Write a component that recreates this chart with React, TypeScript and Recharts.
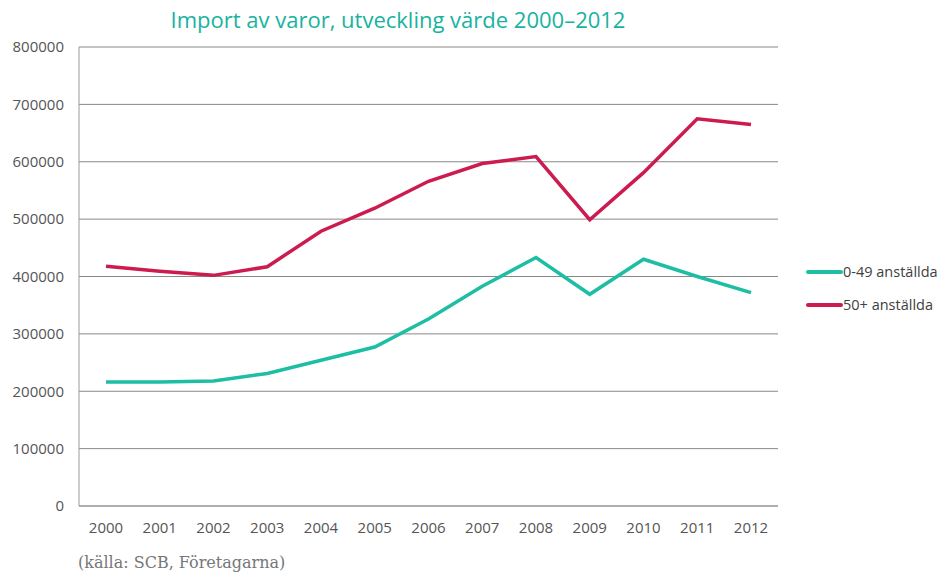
import React from "react";
import { LineChart, Line, XAxis, YAxis, CartesianGrid } from "recharts";

const years = ["2000","2001","2002","2003","2004","2005","2006","2007","2008","2009","2010","2011","2012"];
const small = [216000, 216000, 218000, 231000, 254000, 277000, 326000, 383000, 433000, 369000, 430000, 400000, 372000];
const large = [418000, 409000, 402000, 417000, 479000, 519000, 566000, 597000, 609000, 499000, 581000, 675000, 665000];
const yTicks = [0, 100000, 200000, 300000, 400000, 500000, 600000, 700000, 800000];
const seriesNames = ["0-49 anställda", "50+ anställda"];
const colors = ["#1dbea4", "#cc1b4f"];

const data = years.map((y, i) => ({ year: y, small: small[i], large: large[i] }));

export default function App() {
  return (
    <div style={{ position: "absolute", left: 0, top: 0, width: 945, height: 572, background: "#fff" }}>
      <div style={{ position: "absolute", left: 0, width: 796, top: 4, textAlign: "center", fontFamily: "'Open Sans', sans-serif", fontSize: 22, color: "#17b3a0" }}>
        Import av varor, utveckling värde 2000–2012
      </div>
      <LineChart width={945} height={572} data={data} margin={{ top: 47, right: 167, bottom: 26, left: 0 }}>
        <CartesianGrid vertical={false} stroke="#888888" strokeWidth={1} />
        <XAxis dataKey="year" padding={{ left: 27, right: 27 }} stroke="#999" tickLine={false} tickSize={0} tickMargin={16} height={40}
          tick={{ fill: "#555555", fontSize: 15, fontFamily: "'Open Sans', sans-serif" }} />
        <YAxis domain={[0, 800000]} ticks={yTicks} width={79} stroke="#999" tickLine={false} tickSize={0} tickMargin={15}
          tick={{ fill: "#555555", fontSize: 15, fontFamily: "'Open Sans', sans-serif" }} />
        <Line dataKey="small" name={seriesNames[0]} stroke={colors[0]} strokeWidth={3.5} dot={false} isAnimationActive={false} />
        <Line dataKey="large" name={seriesNames[1]} stroke={colors[1]} strokeWidth={3.5} dot={false} isAnimationActive={false} />
      </LineChart>
      <div style={{ position: "absolute", left: 806, top: 255, fontFamily: "'Open Sans', sans-serif", fontSize: 14.5, color: "#404040" }}>
        {seriesNames.map((n, i) => (
          <div key={n} style={{ display: "flex", alignItems: "center", height: 33 }}>
            <div style={{ width: 37, height: 4, background: colors[i], borderRadius: 2 }} />
            <span>{n}</span>
          </div>
        ))}
      </div>
      <div style={{ position: "absolute", left: 78, top: 553, fontFamily: "'DejaVu Serif', serif", fontSize: 16, color: "#777" }}>
        (källa: SCB, Företagarna)
      </div>
    </div>
  );
}
